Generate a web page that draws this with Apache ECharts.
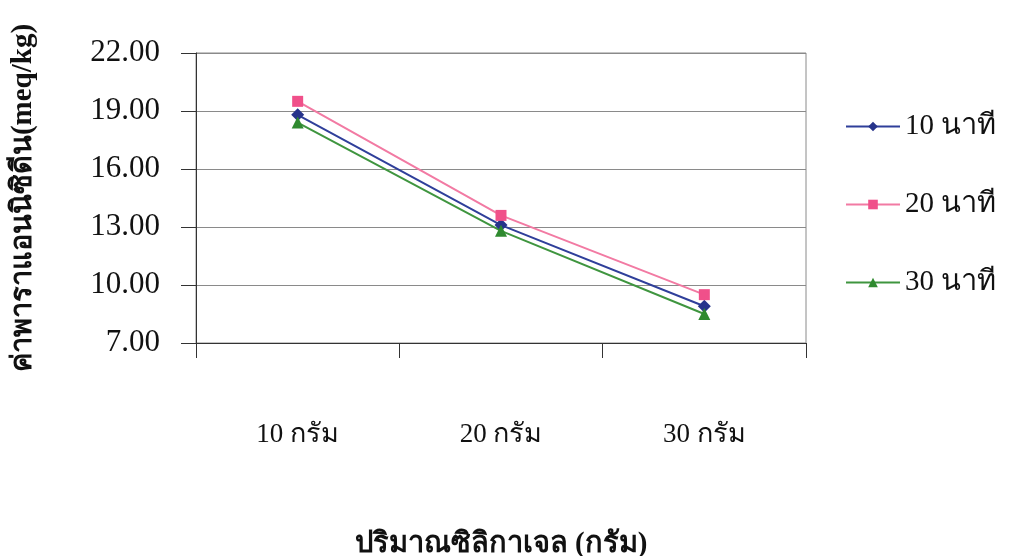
<!DOCTYPE html>
<html>
<head>
<meta charset="utf-8">
<script src="https://cdn.jsdelivr.net/npm/echarts@6/dist/echarts.min.js"></script>
<style>html,body{margin:0;padding:0;background:#fff;}#c{width:1011px;height:556px;}</style>
</head>
<body>
<div id="c"></div>
<script>
const categories = ['10 กรัม', '20 กรัม', '30 กรัม'];
const seriesNames = ['10 นาที', '20 นาที', '30 นาที'];
const min10 = [18.8, 13.1, 8.9];
const min20 = [19.5, 13.6, 9.5];
const min30 = [18.4, 12.8, 8.5];
const yTicks = [7, 10, 13, 16, 19, 22];
const yTitle = 'ค่าพาราแอนนิซิดีน(meq/kg)';
const xTitle = 'ปริมาณซิลิกาเจล (กรัม)';

const font = "'Liberation Serif', 'Times New Roman', serif";
const chart = echarts.init(document.getElementById('c'));
chart.setOption({
  backgroundColor: '#fff',
  animation: false,
  textStyle: { fontFamily: font },
  grid: { left: 196, right: 205, top: 53, bottom: 213, show: true, borderColor: '#8a8a8a', borderWidth: 1,
    containLabel: false, outerBoundsMode: 'none' },
  legend: {
    orient: 'vertical', left: 840, top: 107, itemGap: 49,
    itemWidth: 54, itemHeight: 12,
    textStyle: { fontFamily: font, fontSize: 29, color: '#111' },
    data: seriesNames
  },
  xAxis: {
    type: 'category', data: categories, boundaryGap: true,
    axisLine: { lineStyle: { color: '#333', width: 1 } },
    axisTick: { show: true, inside: false, length: 15, lineStyle: { color: '#333' } },
    axisLabel: { margin: 78, fontSize: 27, color: '#111', fontFamily: font },
    name: xTitle, nameLocation: 'middle', nameGap: 187,
    nameTextStyle: { fontSize: 29, fontWeight: 'bold', color: '#111', fontFamily: font }
  },
  yAxis: {
    type: 'value', min: 7, max: 22,
    axisLine: { show: true, lineStyle: { color: '#333', width: 1 } },
    axisTick: { show: true, inside: false, length: 15, customValues: yTicks, lineStyle: { color: '#333' } },
    axisLabel: { customValues: yTicks, margin: 36, fontSize: 31, color: '#111', fontFamily: font,
      formatter: v => v.toFixed(2) },
    splitLine: { show: true, lineStyle: { color: '#8a8a8a', width: 1 } },
    name: yTitle, nameLocation: 'middle', nameRotate: 90, nameGap: 158,
    nameTextStyle: { fontSize: 29, fontWeight: 'bold', color: '#111', fontFamily: font }
  },
  series: [
    { name: seriesNames[0], type: 'line', data: min10, symbol: 'diamond', symbolSize: 13,
      itemStyle: { color: '#27348B' }, lineStyle: { color: '#2F3F9A', width: 2 } },
    { name: seriesNames[1], type: 'line', data: min20, symbol: 'rect', symbolSize: 11,
      itemStyle: { color: '#F0508A' }, lineStyle: { color: '#F27AA3', width: 2 } },
    { name: seriesNames[2], type: 'line', data: min30, symbol: 'triangle', symbolSize: 12,
      itemStyle: { color: '#2F8A2F' }, lineStyle: { color: '#3F953F', width: 2 } }
  ]
});
</script>
</body>
</html>
